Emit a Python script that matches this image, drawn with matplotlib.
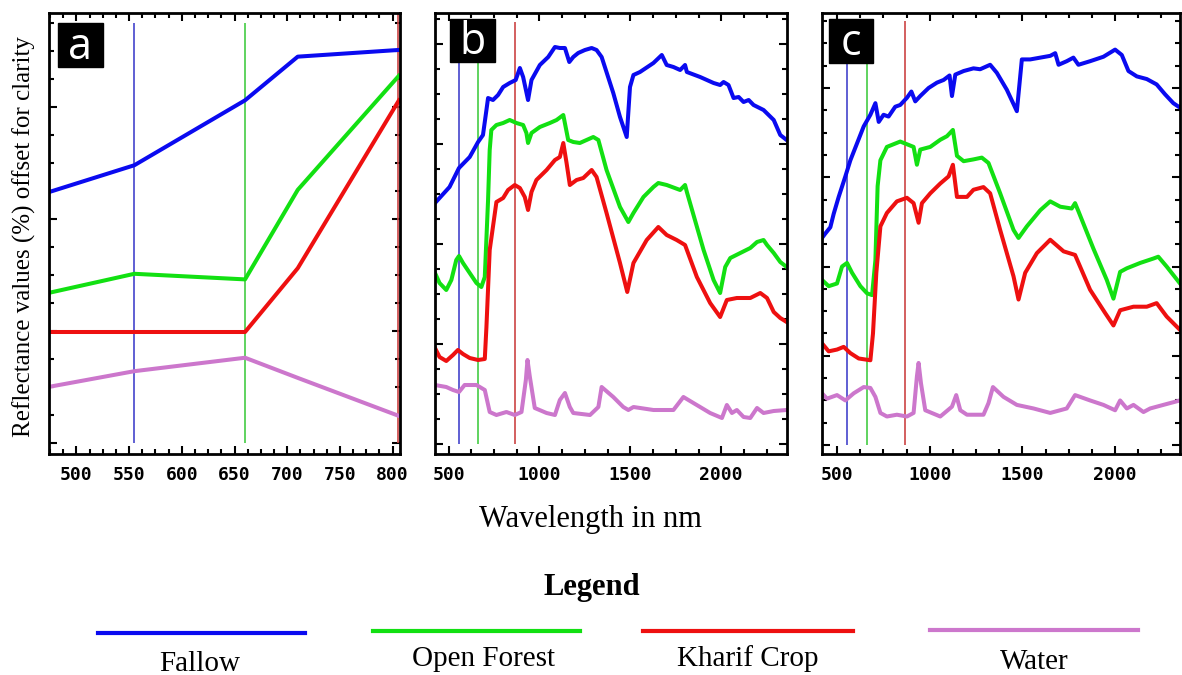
import matplotlib
matplotlib.use("Agg")
import matplotlib.pyplot as plt
from matplotlib.lines import Line2D
from matplotlib.patches import Rectangle
from matplotlib.ticker import MultipleLocator

# colours
c_fallow = "#0a0af0"
c_forest = "#12e012"
c_kharif = "#ee1010"
c_water = "#cc77cc"

# ---- panel a (band averaged, 474-807 nm) ----
a_fallow_x = [474, 555, 660, 710, 806]
a_fallow_y = [22.4, 24.8, 30.6, 34.5, 35.1]
a_forest_x = [474, 555, 660, 710, 806]
a_forest_y = [13.4, 15.1, 14.6, 22.6, 32.8]
a_kharif_x = [474, 660, 710, 806]
a_kharif_y = [9.9, 9.9, 15.6, 30.6]
a_water_x = [474, 555, 660, 710, 806]
a_water_y = [5.0, 6.4, 7.6, 5.8, 2.4]

# ---- panel b ----
b_fallow_x = [425, 450, 505, 557, 616, 662, 689, 708, 717, 744, 772, 800, 836, 869,
              892, 910, 937, 956, 1002, 1048, 1085, 1112, 1140, 1164, 1186, 1213, 1250,
              1287, 1314, 1342, 1406, 1443, 1480, 1498, 1517, 1553, 1627, 1673, 1700,
              1737, 1774, 1801, 1811, 1884, 1958, 1994, 2013, 2040, 2068, 2096, 2123,
              2151, 2178, 2233, 2289, 2325, 2360]
b_fallow_y = [24.1, 24.6, 25.7, 27.6, 28.7, 30.2, 30.9, 33.4, 34.6, 34.4, 34.9, 35.7,
              36.1, 36.4, 37.6, 36.7, 34.4, 36.4, 37.9, 38.7, 39.7, 39.6, 39.6, 38.2,
              38.7, 39.1, 39.4, 39.6, 39.4, 38.7, 35.1, 32.7, 30.7, 35.7, 36.9, 37.2,
              38.1, 38.9, 37.9, 37.7, 37.4, 37.9, 37.2, 36.7, 36.1, 35.9, 36.2, 35.9,
              34.6, 34.7, 34.2, 34.4, 33.9, 33.4, 32.4, 30.9, 30.4]
b_forest_x = [425, 450, 487, 515, 542, 557, 579, 616, 653, 680, 699, 717, 726, 735,
              763, 800, 836, 873, 910, 928, 937, 956, 1002, 1057, 1094, 1131, 1158, 1186,
              1222, 1259, 1296, 1324, 1369, 1443, 1489, 1517, 1572, 1627, 1654, 1700,
              1774, 1801, 1811, 1903, 1958, 1994, 2022, 2050, 2105, 2160, 2197, 2233,
              2252, 2289, 2325, 2360]
b_forest_y = [17.1, 16.1, 15.4, 16.4, 18.4, 18.8, 18.1, 17.1, 16.1, 15.7, 16.7, 24.4,
              29.4, 31.4, 31.9, 32.1, 32.4, 32.1, 31.9, 31.1, 30.1, 31.1, 31.7, 32.1,
              32.4, 32.9, 30.4, 30.2, 30.1, 30.4, 30.7, 30.4, 27.4, 23.7, 22.2, 23.1,
              24.7, 25.7, 26.1, 25.9, 25.4, 25.9, 25.2, 19.4, 16.4, 15.1, 17.7, 18.6,
              19.1, 19.6, 20.2, 20.4, 19.9, 19.1, 18.2, 17.7]
b_kharif_x = [425, 450, 487, 524, 551, 579, 616, 662, 699, 708, 726, 763, 800, 827,
              864, 892, 919, 937, 956, 983, 1039, 1085, 1112, 1131, 1149, 1167, 1204,
              1241, 1287, 1314, 1369, 1443, 1483, 1517, 1590, 1654, 1700, 1755, 1801,
              1866, 1939, 1994, 2031, 2086, 2160, 2215, 2252, 2289, 2325, 2360]
b_kharif_y = [9.6, 8.7, 8.3, 8.9, 9.4, 9.0, 8.6, 8.4, 8.5, 11.7, 19.4, 24.2, 24.6,
              25.4, 25.9, 25.6, 24.7, 23.4, 25.2, 26.4, 27.4, 28.4, 28.7, 30.1, 28.1,
              25.9, 26.4, 26.6, 27.4, 26.7, 23.1, 18.1, 15.2, 18.1, 20.4, 21.7, 20.9,
              20.4, 19.9, 16.7, 14.1, 12.7, 14.4, 14.6, 14.6, 15.1, 14.6, 13.2, 12.6,
              12.2]
b_water_x = [425, 487, 524, 557, 588, 653, 699, 726, 763, 818, 864, 901, 925, 934,
             947, 974, 1039, 1085, 1112, 1140, 1167, 1186, 1278, 1324, 1342, 1406, 1461,
             1489, 1517, 1627, 1737, 1792, 1847, 1939, 2004, 2031, 2059, 2086, 2123,
             2160, 2197, 2233, 2289, 2360]
b_water_y = [5.9, 5.7, 5.4, 5.2, 5.9, 5.9, 5.4, 3.2, 2.9, 3.2, 2.9, 3.2, 6.4, 8.4,
             6.7, 3.6, 3.1, 2.9, 4.4, 5.1, 3.7, 3.1, 2.9, 3.7, 5.7, 4.7, 3.7, 3.4, 3.7,
             3.4, 3.4, 4.7, 4.1, 3.1, 2.6, 3.9, 3.1, 3.4, 2.7, 2.6, 3.6, 3.1, 3.3, 3.4]

# ---- panel c ----
c_fallow_x = [419, 437, 464, 482, 509, 545, 572, 608, 644, 680, 707, 725, 751, 778,
              814, 841, 877, 901, 922, 949, 994, 1039, 1075, 1107, 1120, 1138, 1183,
              1236, 1272, 1326, 1362, 1416, 1470, 1497, 1542, 1596, 1650, 1677, 1695,
              1739, 1775, 1802, 1865, 1937, 2000, 2036, 2072, 2117, 2171, 2224, 2269,
              2314, 2350]
c_fallow_y = [23.2, 23.7, 24.4, 25.9, 27.8, 30.1, 31.9, 33.8, 35.7, 37.0, 38.3, 36.2,
              37.0, 36.8, 37.9, 38.1, 38.9, 39.6, 38.5, 39.1, 40.0, 40.6, 40.9, 41.4,
              39.1, 41.5, 41.9, 42.2, 42.1, 42.6, 41.7, 39.8, 37.4, 43.2, 43.2, 43.4,
              43.6, 43.9, 42.6, 43.0, 43.4, 42.6, 43.0, 43.5, 44.3, 43.7, 41.9, 41.3,
              41.0, 40.4, 39.3, 38.3, 37.8]
c_forest_x = [419, 455, 500, 527, 554, 581, 626, 662, 689, 707, 719, 734, 769, 805,
              841, 877, 913, 931, 949, 1003, 1057, 1093, 1125, 1147, 1183, 1236, 1281,
              1317, 1380, 1452, 1479, 1524, 1596, 1650, 1704, 1766, 1784, 1802, 1883,
              1955, 1991, 2027, 2063, 2135, 2207, 2233, 2278, 2350]
c_forest_y = [18.5, 17.8, 18.1, 20.0, 20.4, 19.3, 17.8, 17.0, 16.8, 20.7, 29.0, 31.9,
              33.4, 33.7, 34.0, 33.7, 33.4, 31.4, 33.1, 33.4, 34.2, 34.6, 35.3, 32.4,
              31.8, 32.0, 32.2, 31.6, 28.2, 24.1, 23.2, 24.5, 26.3, 27.3, 26.7, 26.5,
              27.1, 26.2, 22.0, 18.5, 16.4, 19.4, 19.8, 20.4, 20.9, 21.1, 20.0, 18.1]
c_kharif_x = [419, 455, 500, 536, 572, 617, 680, 694, 712, 734, 769, 823, 877, 913,
              940, 958, 1003, 1057, 1102, 1125, 1147, 1201, 1236, 1290, 1326, 1380, 1452,
              1479, 1515, 1578, 1650, 1722, 1784, 1865, 1946, 1991, 2027, 2099, 2171,
              2224, 2278, 2350]
c_kharif_y = [11.4, 10.5, 10.7, 11.0, 10.3, 9.7, 9.5, 12.5, 19.3, 24.5, 26.0, 27.3,
              27.7, 27.1, 24.9, 27.1, 28.2, 29.3, 30.1, 31.4, 27.8, 27.8, 28.6, 28.9,
              28.2, 24.1, 18.9, 16.3, 19.3, 21.5, 23.0, 21.7, 21.3, 17.4, 14.8, 13.4,
              15.1, 15.5, 15.5, 15.9, 14.4, 12.9]
c_water_x = [419, 446, 500, 545, 590, 644, 680, 707, 734, 769, 823, 877, 913, 931,
             940, 953, 976, 1057, 1120, 1143, 1165, 1201, 1290, 1317, 1341, 1398, 1470,
             1560, 1650, 1739, 1784, 1865, 1937, 2000, 2027, 2063, 2099, 2153, 2189,
             2260, 2350]
c_water_y = [5.8, 5.2, 5.6, 5.0, 5.8, 6.5, 6.4, 5.4, 3.6, 3.2, 3.4, 3.2, 3.6, 7.7,
             9.2, 6.9, 3.9, 3.2, 4.3, 5.6, 3.9, 3.4, 3.4, 4.7, 6.5, 5.4, 4.5, 4.1, 3.6,
             4.1, 5.6, 5.0, 4.5, 3.9, 5.0, 4.1, 4.5, 3.7, 4.1, 4.5, 5.0]

band_lines = [555, 660, 866]
band_cols = ["#4444cc", "#44cc44", "#cc4444"]

W, H = 1182, 675
fig = plt.figure(figsize=(W / 100, H / 100), dpi=100)
fig.patch.set_facecolor("white")

def px_axes(left, top, right, bottom):
    return fig.add_axes([left / W, 1 - bottom / H, (right - left) / W, (bottom - top) / H])

def setup(ax, xlim, ylim, xmaj, xmin, ymaj, ymin, xticks):
    ax.set_xlim(*xlim)
    ax.set_ylim(*ylim)
    ax.xaxis.set_major_locator(MultipleLocator(xmaj))
    ax.xaxis.set_minor_locator(MultipleLocator(xmin))
    ax.yaxis.set_major_locator(MultipleLocator(ymaj))
    ax.yaxis.set_minor_locator(MultipleLocator(ymin))
    ax.set_xticks(xticks)
    ax.tick_params(which="both", direction="in", top=True, right=True, width=1.5,
                   labelleft=False)
    ax.tick_params(which="major", length=6)
    ax.tick_params(which="minor", length=3.5)
    ax.tick_params(axis="x", pad=9)
    for lab in ax.get_xticklabels():
        lab.set_fontfamily("DejaVu Sans Mono")
        lab.set_fontweight("bold")
        lab.set_fontsize(13)
    for s in ax.spines.values():
        s.set_linewidth(2)

def tag(letter, left, top, right, bottom):
    fig.add_artist(Rectangle((left / W, 1 - bottom / H), (right - left) / W,
                             (bottom - top) / H, transform=fig.transFigure,
                             color="black", zorder=5))
    fig.text((left + right) / 2 / W, 1 - (top + bottom) / 2 / H - 0.004, letter,
             color="white", fontsize=31, family="Open Sans", ha="center", va="center",
             zorder=6)

lw = 2.9

# panel a
ax1 = px_axes(49, 13, 400, 454)
setup(ax1, (474, 807), (-1.0, 38.4), 50, 12.5, 10, 2.5, [500, 550, 600, 650, 700, 750, 800])
ax1.vlines(band_lines[:2], 0, 37.5, colors=band_cols[:2], lw=1.2)
ax1.vlines(805.5, 0, 38.4, colors=band_cols[2], lw=1.2)
ax1.plot(a_fallow_x, a_fallow_y, color=c_fallow, lw=lw)
ax1.plot(a_forest_x, a_forest_y, color=c_forest, lw=lw)
ax1.plot(a_kharif_x, a_kharif_y, color=c_kharif, lw=lw)
ax1.plot(a_water_x, a_water_y, color=c_water, lw=lw)
tag("a", 58, 23, 103, 67)

# panel b
ax2 = px_axes(435, 13, 787, 454)
setup(ax2, (425, 2362), (-1.0, 43.1), 500, 125, 10, 2.5, [500, 1000, 1500, 2000])
ax2.vlines(band_lines, 0, 42.2, colors=band_cols, lw=1.2)
ax2.plot(b_fallow_x, b_fallow_y, color=c_fallow, lw=lw)
ax2.plot(b_forest_x, b_forest_y, color=c_forest, lw=lw)
ax2.plot(b_kharif_x, b_kharif_y, color=c_kharif, lw=lw)
ax2.plot(b_water_x, b_water_y, color=c_water, lw=lw)
tag("b", 450, 19, 495, 62)

# panel c
ax3 = px_axes(822, 13, 1180, 454)
setup(ax3, (419, 2350), (-1.0, 48.4), 500, 125, 10, 2.5, [500, 1000, 1500, 2000])
ax3.vlines(band_lines, 0, 47.5, colors=band_cols, lw=1.2)
ax3.plot(c_fallow_x, c_fallow_y, color=c_fallow, lw=lw)
ax3.plot(c_forest_x, c_forest_y, color=c_forest, lw=lw)
ax3.plot(c_kharif_x, c_kharif_y, color=c_kharif, lw=lw)
ax3.plot(c_water_x, c_water_y, color=c_water, lw=lw)
tag("c", 829, 19, 873, 63)

serif = "Liberation Serif"
fig.text(24 / W, 1 - 237 / H, "Reflectance values (%) offset for clarity", rotation=90,
         ha="center", va="center", family=serif, fontsize=18)
fig.text(590 / W, 1 - 520 / H, "Wavelength in nm", ha="center", va="center",
         family=serif, fontsize=22)
fig.text(592 / W, 1 - 588 / H, "Legend", ha="center", va="center", family=serif,
         fontsize=22, fontweight="bold")

names = ["Fallow", "Open Forest", "Kharif Crop", "Water"]
cols = [c_fallow, c_forest, c_kharif, c_water]
line_x = [(98, 305), (373, 580), (643, 853), (930, 1138)]
line_y = [633, 631, 631, 630]
label_xy = [(200, 671), (483, 666), (748, 666), (1034, 669)]
for n, c, (x0, x1), y, (tx, ty) in zip(names, cols, line_x, line_y, label_xy):
    fig.add_artist(Line2D([x0 / W, x1 / W], [1 - y / H, 1 - y / H], color=c, lw=3,
                          transform=fig.transFigure))
    fig.text(tx / W, 1 - ty / H, n, ha="center", va="baseline", family=serif,
             fontsize=21)

fig.savefig("out.png", dpi=100, facecolor="white")
